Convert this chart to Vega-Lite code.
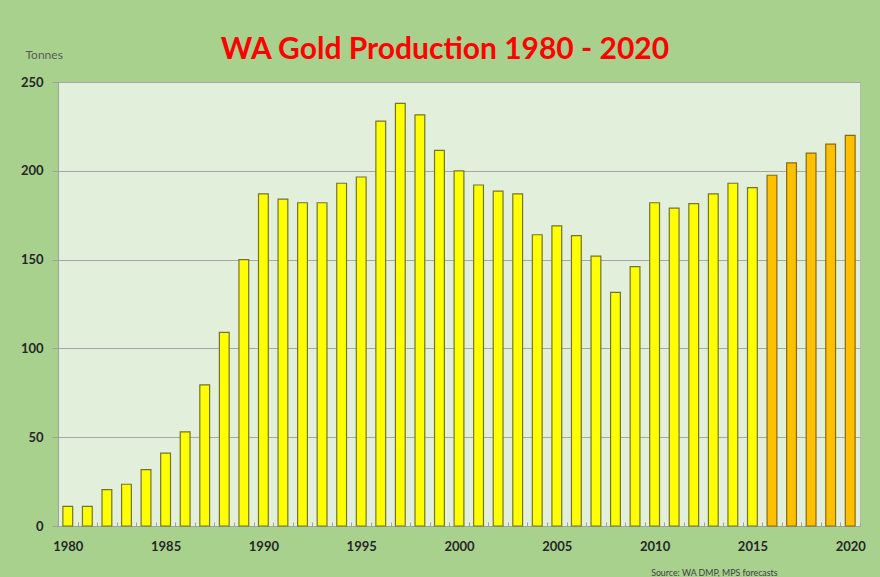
{
  "$schema": "https://vega.github.io/schema/vega-lite/v6.json",
  "width": 802,
  "height": 444,
  "autosize": {"type": "none"},
  "padding": {"left": 58, "top": 82, "right": 20, "bottom": 51},
  "background": "#A9D18E",
  "title": {
    "text": "WA Gold Production 1980 - 2020",
    "color": "#FF0000",
    "font": "Lato",
    "fontWeight": "bold",
    "fontSize": 30,
    "anchor": "middle",
    "frame": "group",
    "offset": 24,
    "dx": -14,
    "dy": 41
  },
  "config": {
    "view": {"fill": "#E2EFDA", "stroke": "#b3bdab", "strokeWidth": 1},
    "font": "Lato"
  },
  "data": {
    "values": [
      {"year": 1980, "tonnes": 11, "type": "Actual"},
      {"year": 1981, "tonnes": 11, "type": "Actual"},
      {"year": 1982, "tonnes": 20.5, "type": "Actual"},
      {"year": 1983, "tonnes": 23.5, "type": "Actual"},
      {"year": 1984, "tonnes": 31.7, "type": "Actual"},
      {"year": 1985, "tonnes": 41, "type": "Actual"},
      {"year": 1986, "tonnes": 53, "type": "Actual"},
      {"year": 1987, "tonnes": 79.5, "type": "Actual"},
      {"year": 1988, "tonnes": 109, "type": "Actual"},
      {"year": 1989, "tonnes": 150, "type": "Actual"},
      {"year": 1990, "tonnes": 187, "type": "Actual"},
      {"year": 1991, "tonnes": 184, "type": "Actual"},
      {"year": 1992, "tonnes": 182, "type": "Actual"},
      {"year": 1993, "tonnes": 182, "type": "Actual"},
      {"year": 1994, "tonnes": 193, "type": "Actual"},
      {"year": 1995, "tonnes": 196.5, "type": "Actual"},
      {"year": 1996, "tonnes": 228, "type": "Actual"},
      {"year": 1997, "tonnes": 238, "type": "Actual"},
      {"year": 1998, "tonnes": 231.5, "type": "Actual"},
      {"year": 1999, "tonnes": 211.5, "type": "Actual"},
      {"year": 2000, "tonnes": 200, "type": "Actual"},
      {"year": 2001, "tonnes": 192, "type": "Actual"},
      {"year": 2002, "tonnes": 188.5, "type": "Actual"},
      {"year": 2003, "tonnes": 187, "type": "Actual"},
      {"year": 2004, "tonnes": 164, "type": "Actual"},
      {"year": 2005, "tonnes": 169, "type": "Actual"},
      {"year": 2006, "tonnes": 163.5, "type": "Actual"},
      {"year": 2007, "tonnes": 152, "type": "Actual"},
      {"year": 2008, "tonnes": 131.5, "type": "Actual"},
      {"year": 2009, "tonnes": 146, "type": "Actual"},
      {"year": 2010, "tonnes": 182, "type": "Actual"},
      {"year": 2011, "tonnes": 179, "type": "Actual"},
      {"year": 2012, "tonnes": 181.5, "type": "Actual"},
      {"year": 2013, "tonnes": 187, "type": "Actual"},
      {"year": 2014, "tonnes": 193, "type": "Actual"},
      {"year": 2015, "tonnes": 190.5, "type": "Actual"},
      {"year": 2016, "tonnes": 197.5, "type": "Forecast"},
      {"year": 2017, "tonnes": 204.5, "type": "Forecast"},
      {"year": 2018, "tonnes": 210, "type": "Forecast"},
      {"year": 2019, "tonnes": 215, "type": "Forecast"},
      {"year": 2020, "tonnes": 220, "type": "Forecast"}
    ]
  },
  "mark": {"type": "bar", "width": {"band": 0.5}, "strokeWidth": 1.2},
  "encoding": {
    "x": {
      "field": "year",
      "type": "ordinal",
      "scale": {"paddingInner": 0, "paddingOuter": 0},
      "axis": {
        "labelAngle": 0,
        "labelExpr": "datum.value % 5 === 0 ? datum.value : ''",
        "labelFont": "Lato",
        "labelFontWeight": "bold",
        "labelFontSize": 13,
        "labelColor": "#262626",
        "labelPadding": 18,
        "tickBand": "extent",
        "tickSize": -4,
        "tickColor": "#a0a0a0",
        "domainColor": "#a0a0a0",
        "title": "Source: WA DMP, MPS forecasts",
        "titleFont": "Lato",
        "titleFontSize": 8.8,
        "titleFontWeight": "normal",
        "titleColor": "#404040",
        "titleAnchor": "end",
        "titleAlign": "right",
        "titleX": 719,
        "titleY": 46,
        "titleBaseline": "middle"
      }
    },
    "y": {
      "field": "tonnes",
      "type": "quantitative",
      "scale": {"domain": [0, 250], "nice": false},
      "axis": {
        "values": [0, 50, 100, 150, 200, 250],
        "labelFont": "Lato",
        "labelFontWeight": "bold",
        "labelFontSize": 13,
        "labelColor": "#262626",
        "labelPadding": 9,
        "tickSize": 6,
        "tickColor": "#a0a0a0",
        "domainColor": "#a0a0a0",
        "gridColor": "#a6a6a6",
        "gridWidth": 1,
        "title": "Tonnes",
        "titleFont": "Lato",
        "titleFontSize": 12,
        "titleFontWeight": "normal",
        "titleColor": "#595959",
        "titleAngle": 0,
        "titleAlign": "left",
        "titleBaseline": "middle",
        "titleX": -33,
        "titleY": -28
      }
    },
    "fill": {
      "field": "type",
      "type": "nominal",
      "scale": {"domain": ["Actual", "Forecast"], "range": ["#FFFF00", "#FFC000"]},
      "legend": null
    },
    "stroke": {
      "field": "type",
      "type": "nominal",
      "scale": {"domain": ["Actual", "Forecast"], "range": ["#74742a", "#8a6a10"]},
      "legend": null
    }
  }
}
